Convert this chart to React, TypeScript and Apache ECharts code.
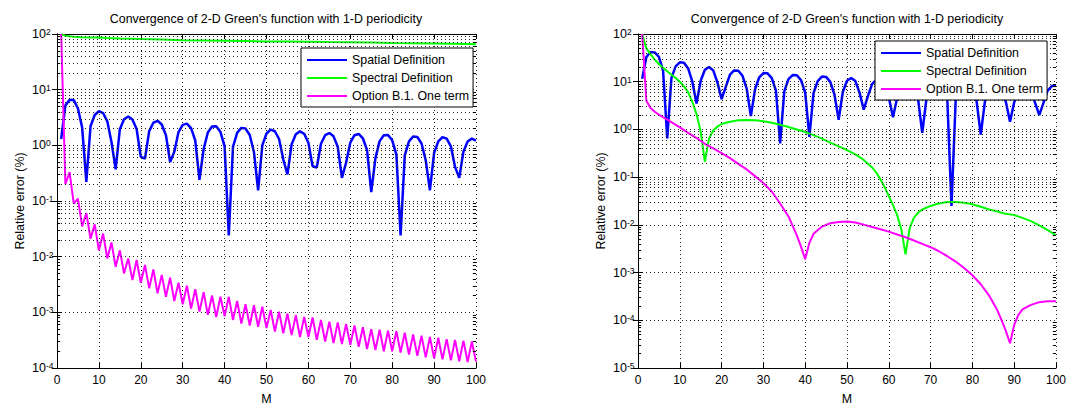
import { useEffect, useRef } from "react";
import * as echarts from "echarts";

const mSteps = [
  1, 2, 3, 4, 5, 6, 7, 8, 9, 10, 11, 12, 13, 14, 15, 16, 17, 18, 19, 20,
  21, 22, 23, 24, 25, 26, 27, 28, 29, 30, 31, 32, 33, 34, 35, 36, 37, 38, 39, 40,
  41, 42, 43, 44, 45, 46, 47, 48, 49, 50, 51, 52, 53, 54, 55, 56, 57, 58, 59, 60,
  61, 62, 63, 64, 65, 66, 67, 68, 69, 70, 71, 72, 73, 74, 75, 76, 77, 78, 79, 80,
  81, 82, 83, 84, 85, 86, 87, 88, 89, 90, 91, 92, 93, 94, 95, 96, 97, 98, 99, 100,
];

// Left panel
const leftSpatial = [
  1.3, 5.2, 6.6, 6.5, 4.6, 2.1, 0.22, 2.2, 3.5, 4.1,
  3.8, 2.7, 1.15, 0.37, 1.95, 2.95, 3.3, 2.9, 1.97, 0.62,
  0.58, 1.8, 2.55, 2.76, 2.37, 1.52, 0.5, 0.77, 1.73, 2.33,
  2.45, 2.03, 1.22, 0.24, 0.86, 1.7, 2.18, 2.2, 1.75, 0.96,
  0.024, 0.94, 1.68, 2.06, 2.0, 1.53, 0.76, 0.155, 1.0, 1.63,
  1.91, 1.79, 1.3, 0.56, 0.3, 1.05, 1.58, 1.78, 1.61, 1.11,
  0.42, 0.4, 1.07, 1.52, 1.66, 1.45, 0.94, 0.26, 0.49, 1.12,
  1.52, 1.6, 1.34, 0.82, 0.145, 0.59, 1.19, 1.52, 1.54, 1.23,
  0.68, 0.024, 0.66, 1.18, 1.44, 1.41, 1.08, 0.54, 0.155, 0.73,
  1.18, 1.4, 1.32, 0.96, 0.41, 0.26, 0.77, 1.17, 1.32, 1.22,
];
const leftSpectralM = [1, 2, 3, 4, 5, 6, 8, 10, 12, 15, 20, 25, 30, 35, 40, 45, 50, 55, 60, 65, 70, 75, 80, 85, 90, 95, 100];
const leftSpectral = [99, 93, 91, 89.5, 88.5, 87.5, 86.8, 86.2, 84.5, 83, 81, 79.5, 77.5, 76.5, 75.5, 74.5, 73.5, 73, 72.3, 71.5, 71, 70, 69, 68.5, 67.5, 66.5, 65.5];
const leftOptionB1 = [
  100, 0.2, 0.33, 0.09, 0.11, 0.035, 0.061, 0.021, 0.038, 0.013,
  0.026, 0.0093, 0.018, 0.0066, 0.013, 0.005, 0.0093, 0.0038, 0.0087, 0.0034,
  0.0071, 0.0027, 0.0059, 0.0022, 0.0047, 0.0019, 0.0042, 0.0016, 0.0034, 0.0014,
  0.003, 0.00117, 0.0026, 0.00103, 0.0023, 0.0009, 0.002, 0.00082, 0.0019, 0.00085,
  0.0019, 0.00073, 0.0016, 0.00063, 0.0014, 0.00058, 0.00134, 0.00055, 0.00126, 0.00052,
  0.0011, 0.00045, 0.00103, 0.00042, 0.00095, 0.00039, 0.00089, 0.00036, 0.00083, 0.00036,
  0.00081, 0.00032, 0.00073, 0.0003, 0.00068, 0.00028, 0.00066, 0.00027, 0.00062, 0.00026,
  0.00058, 0.00024, 0.00054, 0.00022, 0.0005, 0.00021, 0.00049, 0.0002, 0.00047, 0.0002,
  0.00046, 0.00019, 0.00043, 0.000175, 0.0004, 0.000165, 0.00038, 0.000155, 0.00036, 0.00015,
  0.00035, 0.000143, 0.00033, 0.000137, 0.00032, 0.000132, 0.00031, 0.000128, 0.0003, 0.00013,
];

// Right panel
const rightSpatial = [
  11.5, 33, 42, 41, 33, 17, 0.65, 12, 21, 25.5,
  25, 19, 10, 3.5, 10.5, 17.8, 20.4, 17.3, 9.7, 4.3,
  7.8, 14, 17.2, 17, 13.3, 7.2, 1.9, 6.9, 12.4, 15.2,
  15, 11.9, 6.5, 0.51, 6.3, 11.3, 13.8, 13.7, 10.8, 5.9,
  0.7, 5.8, 10.3, 12.8, 12.6, 9.9, 5.4, 1.6, 6.1, 10.5,
  12, 10.3, 5.9, 2.6, 5.0, 8.9, 11, 10.9, 8.6, 4.7,
  1.8, 4.6, 8.3, 10.2, 10.1, 8.1, 4.4, 0.85, 4.3, 7.8,
  9.7, 9.6, 7.6, 4.2, 0.025, 4.1, 7.4, 9.2, 9.1, 7.2,
  3.9, 0.78, 3.9, 7, 8.8, 8.7, 6.9, 3.8, 1.45, 3.7,
  6.7, 8.4, 8.3, 6.6, 3.6, 2.0, 3.6, 6.5, 8.1, 8.2,
];
const rightSpectralM = [
  1, 2, 3, 4, 5, 6, 7, 8, 9, 10, 11, 12, 13, 14, 15, 16, 17, 18, 19, 20,
  22, 24, 26, 28, 30, 32, 34, 36, 38, 40, 42, 44, 46, 48, 50, 52, 54, 56, 57, 58,
  59, 60, 61, 62, 63, 64, 65, 66, 67, 68, 70, 72, 74, 76, 78, 80, 82, 84, 86, 88,
  90, 92, 94, 96, 98, 100,
];
const rightSpectral = [
  100, 50, 38, 29, 23.5, 19.5, 16.5, 14, 12, 10, 8, 6, 3.8, 2.1, 0.9, 0.21, 0.65, 0.95, 1.15, 1.3,
  1.45, 1.55, 1.58, 1.55, 1.48, 1.38, 1.25, 1.12, 1.0, 0.88, 0.76, 0.64, 0.53, 0.44, 0.37, 0.3, 0.23, 0.16, 0.125, 0.09,
  0.062, 0.04, 0.026, 0.016, 0.008, 0.0024, 0.0085, 0.014, 0.018, 0.021, 0.025, 0.028, 0.03, 0.03, 0.029, 0.027, 0.024, 0.021, 0.019, 0.017,
  0.016, 0.014, 0.012, 0.0098, 0.0078, 0.006,
];
const rightOptionB1M = [
  1, 2, 3, 4, 5, 6, 7, 8, 10, 12, 14, 16, 18, 20, 22, 24, 26, 28, 30, 32,
  34, 36, 37, 38, 39, 40, 41, 42, 44, 46, 48, 50, 52, 54, 56, 58, 60, 62, 64, 66,
  68, 70, 72, 74, 76, 78, 80, 82, 84, 86, 87, 88, 89, 90, 91, 92, 94, 96, 98, 100,
];
const rightOptionB1 = [
  100, 4.0, 2.8, 2.35, 2.05, 1.8, 1.6, 1.42, 1.1, 0.85, 0.66, 0.5, 0.4, 0.32, 0.25, 0.19, 0.145, 0.105, 0.075, 0.05,
  0.028, 0.015, 0.0095, 0.006, 0.0035, 0.0019, 0.0042, 0.0065, 0.0092, 0.0108, 0.0115, 0.0117, 0.0112, 0.0101, 0.009, 0.0081, 0.0072, 0.0063, 0.0055, 0.0047,
  0.004, 0.0034, 0.0028, 0.0022, 0.0017, 0.00125, 0.00088, 0.00057, 0.00033, 0.00016, 0.0001, 0.00006, 0.000033, 0.00008, 0.00013, 0.00017, 0.00021, 0.00024, 0.00025, 0.00025,
];

const seriesNames = ["Spatial Definition", "Spectral Definition", "Option B.1. One term"];
const seriesColors = ["#0000ff", "#00ff00", "#ff00ff"];
const titleText = "Convergence of 2-D Green's function with 1-D periodicity";
const yAxisTitle = "Relative error (%)";
const xAxisTitle = "M";
const leftYRange = [1e-4, 100];
const rightYRange = [1e-5, 100];
const leftDecades = [-4, -3, -2, -1, 0, 1];
const rightDecades = [-5, -4, -3, -2, -1, 0, 1];
const minorMultipliers = [2, 3, 4, 5, 6, 7, 8, 9];
const xRange = [0, 100];

const FONT = "'Liberation Sans', Arial, Helvetica, sans-serif";

function zip(xs: number[], ys: number[]) {
  return xs.map((x, i) => [x, ys[i]]);
}

const dotted = { color: "#222", width: 1, type: [1, 3] as number[] };

function logLabel(v: number) {
  const e = Math.round(Math.log10(v));
  return "{n|10}{e|" + e + "}";
}

function minorValues(decades: number[]) {
  const out: number[] = [];
  decades.forEach((d) => minorMultipliers.forEach((m) => out.push(parseFloat((m * Math.pow(10, d)).toPrecision(6)))));
  return out;
}

function buildPanel(idx: number, yr: number[]) {
  const xAxes = [
    {
      type: "value",
      gridIndex: idx,
      min: xRange[0],
      max: xRange[1],
      interval: 10,
      position: "bottom",
      name: xAxisTitle,
      nameLocation: "middle",
      nameGap: 25,
      nameTextStyle: { color: "#000", fontSize: 12.4, fontFamily: FONT },
      axisLine: { show: true, lineStyle: { color: "#000", width: 1 } },
      axisTick: { show: true, inside: true, length: 5, lineStyle: { color: "#000" } },
      axisLabel: { show: true, color: "#000", fontSize: 12, fontFamily: FONT, margin: 6 },
      splitLine: { show: true, lineStyle: dotted },
    },
    {
      type: "value",
      gridIndex: idx,
      min: xRange[0],
      max: xRange[1],
      interval: 10,
      position: "top",
      axisLine: { show: true, lineStyle: { color: "#000", width: 1 } },
      axisTick: { show: true, inside: true, length: 5, lineStyle: { color: "#000" } },
      axisLabel: { show: false },
      splitLine: { show: false },
    },
  ];
  const yAxes = [
    {
      type: "log",
      logBase: 10,
      gridIndex: idx,
      min: yr[0],
      max: yr[1],
      position: "left",
      name: yAxisTitle,
      nameLocation: "middle",
      nameRotate: 90,
      nameGap: 31,
      nameTextStyle: { color: "#000", fontSize: 12.4, fontFamily: FONT },
      axisLine: { show: true, lineStyle: { color: "#000", width: 1 } },
      axisTick: { show: true, inside: true, length: 5, lineStyle: { color: "#000" } },
      minorTick: { show: false },
      axisLabel: {
        show: true,
        align: "left",
        margin: 25,
        formatter: logLabel,
        rich: {
          n: { fontSize: 12.5, fontFamily: FONT, color: "#000", lineHeight: 13, verticalAlign: "bottom" },
          e: { fontSize: 8.5, fontFamily: FONT, color: "#000", lineHeight: 9, verticalAlign: "top", padding: [0, 0, 7, 0] },
        },
      },
      splitLine: { show: true, lineStyle: dotted },
      minorSplitLine: { show: false },
    },
    {
      type: "log",
      logBase: 10,
      gridIndex: idx,
      min: yr[0],
      max: yr[1],
      position: "right",
      axisLine: { show: true, lineStyle: { color: "#000", width: 1 } },
      axisTick: { show: true, inside: true, length: 5, lineStyle: { color: "#000" } },
      minorTick: { show: false },
      axisLabel: { show: false },
      splitLine: { show: false },
    },
  ];
  return { xAxes, yAxes };
}

function gridHelpers(axisIdx: number, decades: number[], yr: number[]) {
  const vals = minorValues(decades);
  const minorGrid = {
    type: "line",
    name: "minor-grid-" + axisIdx,
    data: [[xRange[0], yr[1]]],
    xAxisIndex: axisIdx,
    yAxisIndex: axisIdx,
    showSymbol: false,
    symbol: "none",
    silent: true,
    z: 1,
    lineStyle: { opacity: 0 },
    markLine: {
      silent: true,
      animation: false,
      symbol: ["none", "none"],
      label: { show: false },
      emphasis: { disabled: true },
      lineStyle: { ...dotted },
      data: vals.map((v) => ({ yAxis: v })),
    },
  };
  const tickSegs: any[] = [];
  vals.forEach((v) => {
    tickSegs.push([{ coord: [xRange[0], v] }, { coord: [xRange[0] + 0.75, v] }]);
    tickSegs.push([{ coord: [xRange[1] - 0.75, v] }, { coord: [xRange[1], v] }]);
  });
  const minorTicks = {
    type: "line",
    name: "minor-ticks-" + axisIdx,
    data: [[xRange[0], yr[1]]],
    xAxisIndex: axisIdx,
    yAxisIndex: axisIdx,
    showSymbol: false,
    symbol: "none",
    silent: true,
    z: 4,
    lineStyle: { opacity: 0 },
    markLine: {
      silent: true,
      animation: false,
      symbol: ["none", "none"],
      label: { show: false },
      emphasis: { disabled: true },
      lineStyle: { color: "#000", width: 1, type: "solid" },
      data: tickSegs,
    },
  };
  return [minorGrid, minorTicks];
}

function lineSeries(name: string, color: string, data: number[][], axisIdx: number, width: number) {
  return {
    type: "line",
    name,
    data,
    xAxisIndex: axisIdx,
    yAxisIndex: axisIdx,
    showSymbol: false,
    symbol: "none",
    clip: true,
    silent: true,
    lineStyle: { color, width },
    itemStyle: { color },
    emphasis: { disabled: true },
    z: 3,
  };
}

export default function App() {
  const ref = useRef<HTMLDivElement>(null);
  useEffect(() => {
    if (!ref.current) return;
    const chart = echarts.init(ref.current, null, { renderer: "svg" });
    const left = buildPanel(0, leftYRange);
    const right = buildPanel(1, rightYRange);
    const legendCommon = {
      orient: "vertical",
      icon: "rect",
      itemWidth: 40,
      itemHeight: 2,
      itemGap: 6,
      padding: [6, 4, 5, 6],
      backgroundColor: "#fff",
      borderColor: "#000",
      borderWidth: 1,
      borderRadius: 0,
      selectedMode: false,
      textStyle: { color: "#000", fontSize: 12.4, fontFamily: FONT },
      data: seriesNames,
      z: 10,
    };
    const option = {
      animation: false,
      backgroundColor: "#fff",
      textStyle: { fontFamily: FONT },
      title: [
        {
          text: titleText,
          left: 266,
          top: 13,
          textAlign: "center",
          padding: 0,
          textStyle: { color: "#000", fontSize: 12.4, fontWeight: "normal", fontFamily: FONT },
        },
        {
          text: titleText,
          left: 847,
          top: 13,
          textAlign: "center",
          padding: 0,
          textStyle: { color: "#000", fontSize: 12.4, fontWeight: "normal", fontFamily: FONT },
        },
      ],
      legend: [
        { ...legendCommon, left: 301, top: 48 },
        { ...legendCommon, left: 875, top: 41 },
      ],
      grid: [
        { left: 57, top: 34, width: 419, height: 344, containLabel: false },
        { left: 638, top: 34, width: 418, height: 344, containLabel: false },
      ],
      xAxis: [...left.xAxes, ...right.xAxes],
      yAxis: [...left.yAxes, ...right.yAxes],
      series: [
        ...gridHelpers(0, leftDecades, leftYRange),
        ...gridHelpers(2, rightDecades, rightYRange),
        lineSeries(seriesNames[0], seriesColors[0], zip(mSteps, leftSpatial), 0, 2.5),
        lineSeries(seriesNames[1], seriesColors[1], zip(leftSpectralM, leftSpectral), 0, 2),
        lineSeries(seriesNames[2], seriesColors[2], zip(mSteps, leftOptionB1), 0, 2),
        lineSeries(seriesNames[0], seriesColors[0], zip(mSteps, rightSpatial), 2, 2.5),
        lineSeries(seriesNames[1], seriesColors[1], zip(rightSpectralM, rightSpectral), 2, 2),
        lineSeries(seriesNames[2], seriesColors[2], zip(rightOptionB1M, rightOptionB1), 2, 2),
      ],
    };
    chart.setOption(option as any);
    return () => chart.dispose();
  }, []);
  return (
    <div
      ref={ref}
      style={{ position: "absolute", left: 0, top: 0, width: 1086, height: 410, background: "#fff" }}
    />
  );
}
